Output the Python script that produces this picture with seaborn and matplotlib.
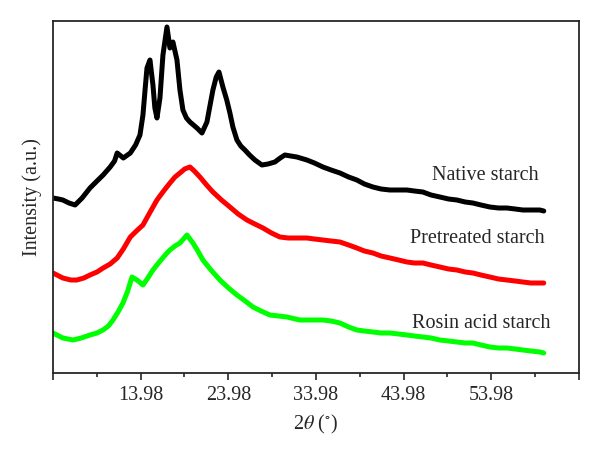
import matplotlib
matplotlib.use("Agg")
import matplotlib.pyplot as plt
import seaborn as sns
import pandas as pd

# ---- data ----
native_x = [3.98, 4.6, 5.1, 5.8, 6.5, 7.3, 8.2, 9.0, 9.7, 10.5, 11.0, 11.3, 12.0, 12.8,
            13.4, 13.9, 14.24, 14.5, 14.7, 15.04, 15.38, 15.6, 15.84, 16.18, 16.52,
            16.98, 17.32, 17.66, 18.12, 18.46, 18.8, 19.2, 19.6, 20.0, 20.4, 20.97,
            21.54, 21.9, 22.22, 22.6, 22.91, 23.36, 23.8, 24.16, 24.5, 24.96, 25.4,
            25.87, 26.4, 27.01, 27.81, 28.5, 29.29, 29.9, 30.43, 31.1, 31.8, 32.94,
            33.8, 34.77, 35.7, 36.71, 37.7, 38.64, 39.5, 40.47, 41.4, 42.41, 43.4,
            44.35, 45.2, 46.17, 47.1, 48.11, 49.1, 50.05, 51.0, 51.87, 52.8, 53.81,
            54.8, 55.75, 56.7, 57.57, 58.5, 59.51, 59.96]
native_y = [175, 174, 173, 170, 168, 175, 185, 192, 198, 206, 212, 220, 215, 220,
            228, 238, 258, 285, 305, 313, 288, 265, 255, 275, 318,
            346, 325, 331, 313, 283, 263, 255, 251, 248, 245, 240,
            251, 268, 283, 296, 301, 286, 273, 260, 246, 233, 227,
            223, 218, 213, 208, 209, 211, 215, 218, 217, 216, 213,
            210, 206, 203, 200, 196, 193, 189, 186, 184, 183, 183,
            183, 182, 181, 178, 176, 174, 173, 171, 170, 168, 166,
            165, 165, 164, 163, 163, 163, 162]

pre_x = [3.98, 5.1, 6.0, 6.7, 7.5, 8.2, 9.0, 9.7, 10.5, 11.3, 12.0, 12.8, 13.5, 14.24,
         15.0, 15.84, 16.6, 17.32, 17.9, 18.46, 19.0, 19.6, 20.1, 20.74, 21.5, 22.22,
         23.2, 24.16, 25.1, 26.1, 27.0, 27.93, 28.9, 29.86, 30.8, 31.8, 32.94,
         33.8, 34.77, 35.7, 36.71, 37.7, 38.64, 39.5, 40.47, 41.4, 42.41, 43.4,
         44.35, 45.2, 46.17, 47.1, 48.11, 49.1, 50.05, 51.0, 51.87, 52.8, 53.81,
         54.8, 55.75, 56.7, 57.57, 58.5, 59.51, 59.96]
pre_y = [100, 95, 93, 93, 95, 98, 101, 105, 109, 115, 124, 136, 142, 148,
         160, 173, 182, 190, 196, 200, 204, 206, 202, 196, 188, 181,
         173, 166, 159, 153, 149, 145, 140, 136, 135, 135, 135,
         134, 133, 132, 131, 128, 125, 122, 120, 117, 115, 113,
         111, 110, 110, 108, 106, 104, 103, 101, 100, 98, 96,
         94, 93, 92, 91, 90, 90, 90]

rosin_x = [3.98, 5.1, 6.26, 7.2, 8.2, 9.0, 9.68, 10.3, 10.82, 11.4, 11.96, 12.5,
           12.99, 13.56, 14.24, 14.8, 15.38, 16.2, 16.98, 17.32, 17.9, 18.46, 19.26,
           19.94, 20.5, 21.08, 22.0, 23.02, 24.0, 24.96, 25.9, 26.79, 27.7, 28.72,
           29.7, 30.66, 32.14, 32.94, 34.77, 35.7, 36.71, 37.7, 38.64, 39.5, 40.47,
           41.4, 42.41, 43.4, 44.35, 45.2, 46.17, 47.1, 48.11, 49.1, 50.05, 51.0,
           51.87, 52.8, 53.81, 54.8, 55.75, 56.7, 57.57, 58.5, 59.51, 59.96]
rosin_y = [40, 35, 33, 35, 38, 40, 43, 47, 53, 61, 70, 82,
           96, 93, 88, 95, 103, 112, 120, 123, 127, 130, 138,
           130, 122, 113, 103, 93, 85, 78, 72, 66, 62, 58,
           57, 56, 53, 53, 53, 52, 50, 46, 43, 42, 41,
           40, 40, 39, 38, 37, 36, 35, 33, 32, 31, 30,
           30, 28, 26, 25, 25, 24, 23, 22, 21, 20]

series_names = ["Native starch", "Pretreated starch", "Rosin acid starch"]
series_colors = ["#000000", "#ff0000", "#00ff00"]

tick_positions = [3.98, 13.98, 23.98, 33.98, 43.98, 53.98, 63.98]
tick_labels = ["", "13.98", "23.98", "33.98", "43.98", "53.98", ""]
minor_positions = [8.98, 18.98, 28.98, 38.98, 48.98, 58.98]

df = pd.concat([
    pd.DataFrame({"angle": native_x, "intensity": native_y, "sample": series_names[0]}),
    pd.DataFrame({"angle": pre_x, "intensity": pre_y, "sample": series_names[1]}),
    pd.DataFrame({"angle": rosin_x, "intensity": rosin_y, "sample": series_names[2]}),
], ignore_index=True)

sns.set_style("ticks")
plt.rcParams["font.family"] = ["Liberation Serif", "DejaVu Serif"]
plt.rcParams["mathtext.fontset"] = "stix"

fig = plt.figure(figsize=(6.0, 4.61), dpi=100)
ax = fig.add_axes([53 / 600, 1 - 373 / 461, 526 / 600, 352 / 461])

sns.lineplot(data=df, x="angle", y="intensity", hue="sample",
             palette=dict(zip(series_names, series_colors)),
             linewidth=3.6, legend=False, ax=ax, sort=True)

ax.set_xlim(3.98, 63.98)
ax.set_ylim(0, 352)
ax.set_xticks(tick_positions)
ax.set_xticklabels(tick_labels, fontsize=14.5)
ax.set_xticks(minor_positions, minor=True)
ax.set_yticks([])
ax.tick_params(axis="x", which="major", direction="out", length=5, width=1.2, pad=4,
               top=False)
ax.tick_params(axis="x", which="minor", direction="out", length=3, width=1.2, top=False)
for s in ax.spines.values():
    s.set_linewidth(1.3)
    s.set_visible(True)

ax.set_xlabel(r"2$\theta$ ($^{\circ}$)", fontsize=14.5, labelpad=6)
ax.set_ylabel("Intensity (a.u.)", fontsize=14.5, labelpad=8)

label_pos = [(0.7205, 0.5625), (0.679, 0.3835), (0.6825, 0.142)]
for name, (tx, ty) in zip(series_names, label_pos):
    ax.text(tx, ty, name, transform=ax.transAxes, ha="left", va="center", fontsize=14.5)

fig.savefig("out.png", dpi=100)
